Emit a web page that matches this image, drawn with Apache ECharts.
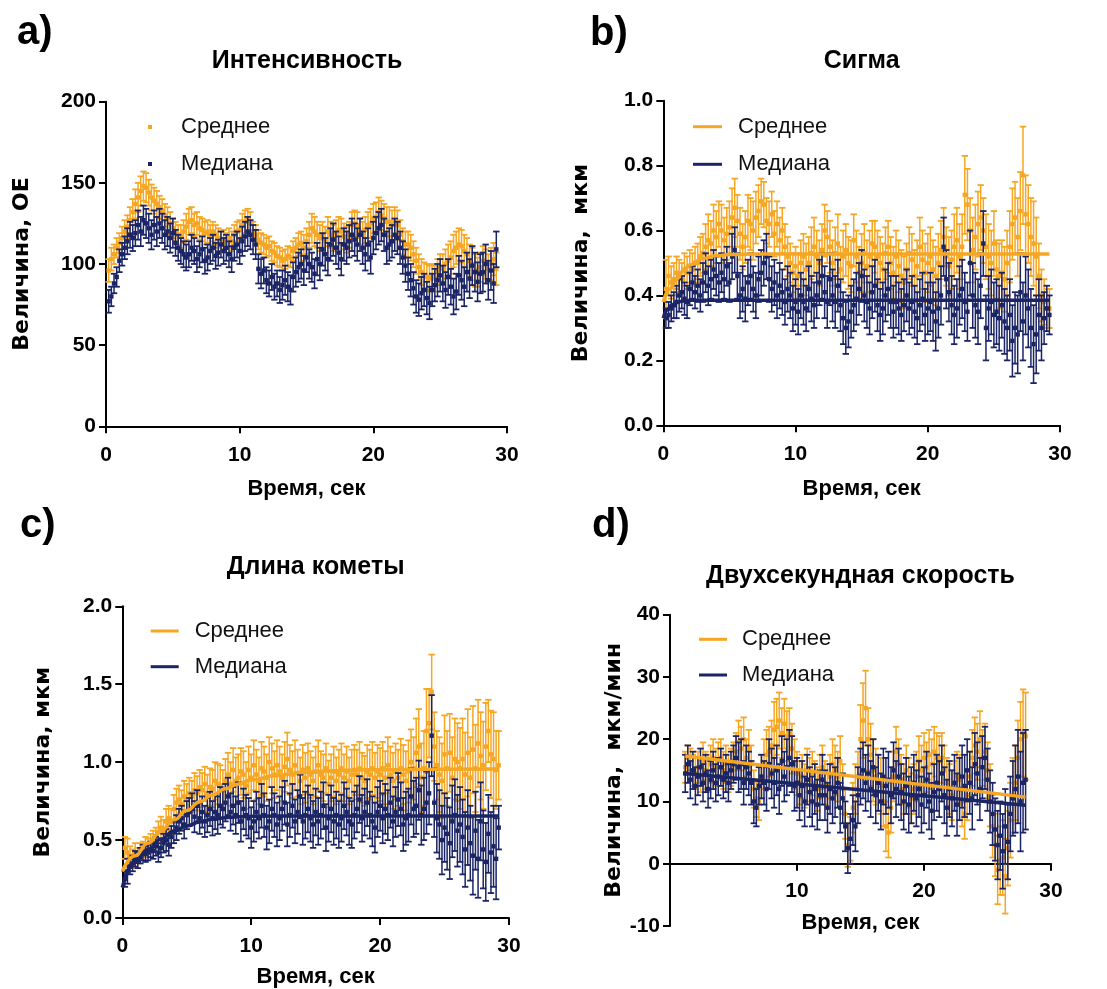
<!DOCTYPE html>
<html><head><meta charset="utf-8">
<script src="https://cdn.jsdelivr.net/npm/echarts@6/dist/echarts.min.js"></script>
<style>html,body{margin:0;padding:0;background:#fff}#c{width:1107px;height:989px}</style>
</head><body><div id="c"></div><script>
// ---------- DATA ----------
const seriesNames = ['Среднее', 'Медиана'];
const panelTitles = ['Интенсивность', 'Сигма', 'Длина кометы', 'Двухсекундная скорость'];
const panelLetters = ['a)', 'b)', 'c)', 'd)'];
const yTitles = ['Величина, ОЕ', 'Величина,  мкм', 'Величина, мкм', 'Величина,  мкм/мин'];
const xTitle = 'Время, сек';

// sampling: frames every 0.2 s
const abcStart = 0.2, dStart = 1.2, frameStep = 0.2;

// a) Интенсивность
const aMean = [96,103,106,110,113,116,120,123,127,132,
137,141,145,148,147,144,141,139,137,135,
133,130,128,125,122,120,118,117,120,123,
126,127,124,125,122,121,119,120,118,120,
118,116,114,115,113,116,114,118,120,121,
124,126,127,125,120,118,115,113,112,110,
111,108,107,105,104,102,103,105,104,108,
110,112,113,110,114,118,122,120,118,116,
118,115,120,118,116,119,121,120,117,115,
118,124,125,124,120,118,121,124,125,128,
129,132,130,128,126,126,124,126,124,118,
114,112,112,110,106,102,98,95,93,92,
91,92,91,95,98,97,100,102,104,108,
110,112,111,108,106,102,100,96,95,98,
102,100,97,100,103,97];
const aMeanErr = [7,7,6,6,6,7,7,7,8,8,
9,9,9,9,9,8,8,8,8,7,
7,7,7,7,6,6,6,7,7,8,
8,8,7,7,7,7,7,7,6,6,
6,6,6,6,6,6,6,6,6,6,
7,7,7,7,6,6,6,6,6,6,
6,6,6,6,6,6,6,6,6,6,
6,7,7,8,8,8,9,9,8,8,
8,8,9,8,8,8,8,8,8,8,
8,8,8,8,8,8,8,8,9,9,
9,9,9,9,9,9,9,9,9,9,
8,8,8,8,8,8,8,8,8,8,
8,8,8,8,8,9,9,10,10,10,
10,10,10,10,10,10,10,10,9,9,
9,9,9,10,10,10];
const aMed = [77,80,88,92,102,106,110,114,118,116,
119,124,120,127,125,122,118,124,120,125,
122,118,120,116,119,113,110,108,106,104,
106,110,108,103,106,109,102,104,108,110,
105,107,112,108,110,106,103,110,112,108,
114,117,120,118,115,112,97,94,96,90,
88,92,86,88,84,87,90,86,84,92,
95,98,100,96,104,100,98,94,103,100,
109,106,103,112,115,110,107,103,112,110,
114,118,115,112,118,110,106,112,104,116,
119,122,124,118,110,112,114,118,116,110,
104,99,94,90,85,80,78,82,84,79,
76,84,87,90,93,88,84,92,86,80,
83,93,90,86,95,91,99,95,89,94,
95,100,90,96,88,109];
const aMedErr = [7,6,6,6,7,7,7,8,8,8,
8,9,9,9,9,9,9,9,9,9,
9,9,9,9,9,8,8,8,8,8,
8,8,8,8,8,8,8,8,8,8,
8,8,8,8,8,8,8,8,8,8,
9,9,9,9,9,9,9,9,8,8,
8,8,8,8,8,9,9,9,9,9,
9,9,9,9,9,9,9,9,10,10,
10,10,10,10,10,10,10,10,10,10,
10,10,10,10,10,10,10,10,10,10,
10,10,10,10,10,10,10,10,10,10,
10,10,10,10,10,10,10,10,10,10,
10,10,10,10,10,11,11,11,11,11,
11,12,12,12,12,12,12,12,12,12,
12,12,12,12,12,11];

// b) Сигма
const bMean = [.42,.46,.44,.45,.47,.46,.45,.48,.47,.49,
.48,.50,.50,.52,.53,.55,.57,.56,.60,.58,
.62,.60,.57,.59,.61,.64,.67,.63,.59,.55,
.58,.63,.62,.60,.64,.66,.69,.68,.63,.62,
.65,.59,.62,.57,.60,.55,.52,.50,.47,.49,
.46,.50,.52,.48,.50,.53,.55,.52,.50,.54,
.60,.58,.55,.50,.53,.56,.48,.52,.54,.50,
.49,.57,.52,.47,.50,.53,.49,.52,.56,.55,
.52,.50,.48,.53,.55,.50,.47,.52,.49,.46,
.44,.48,.53,.51,.46,.49,.55,.51,.47,.50,
.52,.48,.46,.50,.54,.58,.52,.49,.51,.55,
.57,.52,.55,.71,.68,.60,.54,.58,.62,.64,
.60,.55,.52,.50,.56,.48,.46,.47,.45,.50,
.55,.62,.64,.58,.66,.77,.65,.62,.58,.56,
.52,.46,.40,.38,.36,.36];
const bMeanErr = [.09,.06,.05,.05,.05,.05,.05,.05,.05,.05,
.05,.05,.06,.06,.06,.07,.08,.07,.08,.08,
.07,.08,.07,.08,.08,.09,.09,.08,.08,.07,
.08,.08,.08,.09,.08,.08,.07,.07,.07,.07,
.07,.07,.07,.07,.07,.07,.06,.06,.06,.06,
.07,.07,.07,.08,.08,.08,.09,.08,.07,.08,
.08,.08,.08,.07,.08,.09,.07,.08,.08,.08,
.08,.08,.08,.08,.09,.09,.08,.08,.07,.08,
.08,.08,.08,.08,.08,.08,.08,.08,.08,.08,
.08,.08,.08,.08,.08,.08,.09,.09,.09,.09,
.09,.09,.09,.09,.09,.09,.09,.09,.09,.10,
.10,.10,.10,.12,.11,.10,.10,.10,.10,.10,
.10,.10,.10,.10,.10,.09,.10,.10,.10,.10,
.11,.11,.11,.12,.12,.15,.12,.12,.12,.13,
.12,.10,.08,.07,.06,.06];
const bMed = [.33,.34,.36,.37,.38,.40,.41,.39,.38,.42,
.44,.41,.43,.40,.44,.47,.43,.45,.48,.46,
.44,.47,.45,.49,.44,.52,.54,.46,.40,.42,
.39,.44,.46,.42,.40,.45,.47,.50,.52,.45,
.42,.44,.40,.43,.41,.38,.42,.40,.36,.38,
.35,.40,.38,.36,.42,.39,.37,.40,.44,.46,
.41,.38,.45,.40,.38,.43,.37,.33,.30,.32,
.35,.37,.39,.42,.46,.40,.38,.36,.41,.43,
.37,.34,.36,.40,.42,.38,.35,.38,.36,.34,
.37,.40,.36,.38,.35,.33,.37,.39,.34,.36,
.38,.35,.32,.36,.40,.55,.45,.41,.37,.34,
.36,.40,.42,.38,.35,.50,.40,.37,.35,.43,
.56,.30,.36,.38,.34,.35,.33,.37,.32,.30,
.34,.26,.30,.28,.41,.32,.40,.36,.30,.25,
.28,.34,.30,.33,.36,.34];
const bMedErr = [.03,.04,.04,.04,.05,.05,.05,.05,.05,.05,
.05,.05,.05,.05,.06,.06,.06,.06,.06,.06,
.06,.06,.06,.06,.06,.07,.07,.07,.07,.07,
.07,.07,.07,.07,.07,.07,.07,.07,.07,.07,
.07,.07,.07,.07,.07,.07,.07,.07,.07,.07,
.07,.07,.07,.07,.07,.07,.07,.07,.07,.07,
.08,.08,.08,.08,.08,.08,.08,.08,.08,.08,
.08,.08,.08,.08,.08,.08,.08,.08,.08,.08,
.08,.08,.08,.08,.08,.08,.08,.08,.08,.08,
.08,.08,.08,.08,.08,.08,.08,.08,.08,.08,
.09,.09,.09,.09,.09,.09,.09,.09,.09,.09,
.09,.09,.09,.09,.09,.10,.10,.10,.10,.10,
.10,.10,.10,.10,.10,.10,.10,.10,.10,.10,
.11,.11,.11,.12,.12,.12,.12,.12,.12,.12,
.12,.11,.10,.08,.07,.06];
const bFitT = [0, 0.5, 1, 1.5, 2, 3, 4, 5, 7, 29.2];
const bFitMean = [0.38, 0.42, 0.45, 0.475, 0.494, 0.514, 0.522, 0.526, 0.528, 0.528];
const bFitMedT = [0, 0.3, 0.6, 1, 1.5, 2, 29.2];
const bFitMed = [0.33, 0.355, 0.37, 0.378, 0.383, 0.385, 0.385];

// c) Длина кометы
const cMean = [.45,.42,.40,.38,.42,.40,.43,.44,.46,.45,
.48,.50,.52,.55,.58,.56,.62,.64,.62,.70,
.74,.76,.73,.78,.76,.80,.78,.82,.80,.84,
.82,.86,.80,.84,.83,.88,.86,.85,.82,.88,
.92,.86,.95,.88,.90,.94,.92,.85,.95,.90,
.98,.92,.88,.96,.94,.90,1.00,.96,.92,.98,
.94,.90,.97,1.02,.95,.92,.98,.93,.88,.95,
.90,.96,.92,.88,.94,.98,.92,.90,.96,.86,
.90,.94,.88,.92,.96,.90,.94,.88,.92,.95,
.92,.96,.90,.88,.94,.92,.96,.90,.94,.92,
.96,.90,.98,.92,.88,.94,.90,.96,.92,.88,
.94,1.00,.96,1.06,1.10,.90,.96,1.20,1.25,1.45,
1.10,.98,.92,.88,1.05,.96,1.06,.90,1.02,1.00,
.96,1.02,.92,1.06,.90,1.08,.96,1.12,1.04,.98,
1.10,1.20,1.05,1.02,.95,.98];
const cMeanErr = [.07,.09,.06,.06,.06,.05,.05,.05,.06,.06,
.06,.06,.06,.07,.07,.07,.08,.08,.08,.09,
.09,.09,.09,.10,.10,.10,.10,.11,.11,.11,
.11,.11,.12,.12,.12,.12,.13,.13,.13,.14,
.14,.14,.14,.15,.15,.15,.15,.15,.15,.15,
.16,.16,.15,.17,.16,.15,.16,.16,.15,.16,
.16,.15,.16,.17,.16,.15,.16,.15,.15,.16,
.16,.16,.15,.15,.16,.16,.15,.15,.16,.15,
.15,.16,.15,.16,.16,.15,.16,.15,.16,.16,
.16,.17,.16,.16,.17,.16,.17,.16,.17,.17,
.17,.17,.18,.18,.18,.18,.18,.19,.19,.19,
.20,.21,.20,.22,.24,.22,.24,.27,.22,.24,
.22,.22,.24,.24,.25,.24,.25,.26,.26,.25,
.26,.26,.27,.28,.26,.28,.28,.28,.28,.28,
.28,.20,.28,.30,.25,.22];
const cMed = [.25,.30,.33,.35,.38,.37,.40,.42,.41,.42,
.44,.43,.46,.42,.45,.48,.50,.47,.52,.55,
.58,.62,.64,.60,.66,.68,.70,.65,.72,.64,
.68,.62,.66,.70,.64,.68,.66,.72,.70,.74,
.78,.68,.72,.66,.74,.62,.70,.66,.64,.58,
.62,.68,.64,.72,.66,.58,.62,.70,.66,.60,
.64,.70,.74,.60,.66,.72,.62,.68,.78,.62,
.66,.70,.64,.60,.68,.62,.66,.72,.58,.64,
.70,.62,.66,.60,.64,.72,.68,.62,.60,.66,
.70,.76,.64,.68,.74,.66,.62,.58,.68,.72,
.64,.70,.66,.74,.62,.68,.76,.70,.60,.64,
.66,.78,.70,.72,.82,.66,.70,.74,.80,1.17,
.74,.64,.60,.50,.58,.54,.48,.62,.66,.56,
.60,.52,.44,.58,.48,.40,.56,.38,.62,.44,
.36,.54,.42,.46,.38,.58];
const cMedErr = [.05,.08,.05,.05,.05,.05,.05,.05,.05,.05,
.05,.05,.06,.06,.06,.06,.07,.07,.07,.07,
.08,.08,.08,.09,.09,.09,.10,.10,.10,.10,
.10,.10,.11,.11,.11,.11,.12,.12,.12,.12,
.12,.12,.12,.12,.13,.13,.13,.13,.13,.13,
.13,.13,.13,.14,.14,.14,.14,.14,.14,.14,
.14,.14,.14,.14,.14,.14,.14,.14,.14,.15,
.15,.15,.15,.15,.15,.15,.15,.15,.15,.15,
.15,.15,.15,.15,.15,.15,.15,.15,.15,.15,
.15,.15,.15,.15,.15,.15,.16,.16,.16,.16,
.16,.16,.16,.16,.16,.16,.17,.17,.17,.17,
.17,.18,.18,.18,.19,.19,.20,.20,.20,.26,
.22,.22,.22,.22,.22,.23,.23,.23,.23,.23,
.24,.24,.24,.24,.24,.25,.25,.25,.25,.25,
.25,.25,.26,.26,.26,.14];
const cFitT = [0, 1, 2, 3, 4, 5, 6, 7, 8, 9, 10, 12, 14, 16, 18, 20, 24, 29.2];
const cFitMean = [0.30, 0.40, 0.48, 0.56, 0.63, 0.69, 0.745, 0.79, 0.83, 0.86, 0.885, 0.915, 0.933, 0.943, 0.949, 0.952, 0.955, 0.956];
const cFitMedT = [0, 1, 2, 3, 4, 5, 6, 7, 8, 9, 10, 14, 29.2];
const cFitMed = [0.196, 0.356, 0.44, 0.505, 0.558, 0.59, 0.616, 0.633, 0.644, 0.65, 0.653, 0.655, 0.655];

// d) Двухсекундная скорость (1.2 … 28.0 s)
const dMean = [15.5,17.0,16.0,15.0,14.5,15.5,14.0,16.5,15.0,14.5,
16.0,17.0,15.5,16.5,17.0,15.0,16.0,14.5,15.5,16.5,
18.0,19.5,18.5,20.0,17.0,18.5,16.0,12.0,10.5,10.0,
14.0,16.0,17.5,18.0,19.0,21.5,22.0,23.0,21.0,22.5,
20.5,21.0,18.5,16.0,14.5,13.0,14.0,12.5,15.0,13.5,
14.5,13.0,12.0,14.0,15.5,13.0,12.5,14.0,16.0,15.0,
14.0,16.5,12.0,8.0,3.0,4.0,9.0,12.0,14.0,20.0,
23.0,25.0,20.0,17.5,15.0,14.0,13.0,12.5,10.0,6.0,
5.0,9.0,14.0,18.0,16.0,13.5,12.0,15.0,13.0,10.5,
12.0,14.0,16.5,15.0,17.0,15.5,17.5,16.0,18.0,17.0,
16.5,17.0,15.0,13.0,12.0,11.0,12.5,14.0,13.5,10.0,
8.0,11.0,14.0,17.0,19.0,18.0,20.0,17.0,18.0,15.0,
11.0,6.0,3.0,-1.0,0.5,1.0,-2.0,2.5,7.0,11.0,
13.0,17.0,20.0,21.0,20.5];
const dMeanErr = [2.5,2,2.5,2.5,2.5,2.5,2.5,3,3,3,
3,3,3,3,3,3,3,3,3,3,
3,3.5,3.5,3.5,3,3,3,3,3,3,
3.5,4,4,4,4,4.5,4.5,4.5,4,4,
4,4,4,4,3.5,3.5,3.5,3.5,3.5,3.5,
3.5,3.5,3.5,3.5,3.5,3.5,3.5,3.5,4,4,
4,4,4,4,3.5,3.5,4,4,4,5.5,
6,6,5,5,5,4.5,4.5,4.5,4,4,
4,4,4,4,4,4,4,4,4,4,
4,4,4,4,4,4,4,4,4,4,
4,4,4,4,4,4,4,4,4,4,
4,4,4,4.5,4.5,4.5,4.5,4.5,4.5,4.5,
5,5,5,5.5,5.5,6,6,6,6,6,
6,6,6,7,7];
const dMed = [14.5,16.0,13.5,15.0,12.5,14.0,15.5,13.0,14.5,12.0,
13.5,15.0,13.0,14.0,15.5,13.5,14.5,13.0,15.0,16.0,
17.0,15.5,16.0,13.0,15.5,14.5,13.0,10.0,9.0,12.5,
14.0,13.0,12.0,16.0,14.5,13.0,15.0,12.0,16.5,14.0,
15.5,17.0,16.0,12.5,13.0,11.0,12.5,10.0,13.5,11.5,
10.0,12.0,9.5,11.0,13.5,11.0,9.0,12.0,10.5,11.5,
13.0,9.0,10.5,6.0,2.5,4.0,7.0,6.0,11.0,14.0,
15.0,13.0,14.5,12.0,15.5,11.0,13.0,10.0,14.0,12.5,
13.5,11.0,15.0,12.0,14.0,11.5,10.0,12.5,9.5,11.0,
13.0,10.5,12.0,9.5,11.0,13.5,10.0,8.5,11.5,13.0,
12.0,14.5,11.0,9.0,12.0,10.5,13.0,9.5,12.0,14.0,
12.5,15.0,13.0,10.5,16.0,14.5,12.0,15.5,17.0,13.5,
10.0,8.0,5.5,3.0,4.5,2.0,6.0,3.5,8.0,10.5,
12.0,14.0,10.0,13.0,13.5];
const dMedErr = [3,3,3,3,3,3,3,3,3,3,
3,3,3,3,3,3,3,3,3,3,
3.5,4,4,3.5,3.5,3.5,3.5,3.5,3,3,
3.5,3.5,3.5,4,4,4,4,4,4,4,
4.5,4.5,4.5,4,4,4,4,4,4,4,
4,4,4,4,4,4,4,4,4,4,
4,4,4,4,4,4,4,4,4.5,4.5,
4.5,4.5,4.5,4.5,4.5,4.5,4.5,4.5,4.5,4.5,
4.5,4.5,4.5,4.5,4.5,4.5,4.5,4.5,4.5,4.5,
4.5,4.5,4.5,4.5,4.5,4.5,4.5,4.5,4.5,4.5,
4.5,4.5,4.5,4.5,4.5,4.5,4.5,5,5,5,
5,5,5,5,5,5,5,5,5,5,
5,5,5,5.5,5.5,6,6,6,6,6,
7,7.5,8,8,8];
const dFitT = [1.2, 28.0];
const dFitMean = [17.3, 10.7];
const dFitMed = [14.5, 9.4];

// ---------- STYLE ----------
const OR = '#F5A623', NV = '#1B2566';
const SANS = "'Liberation Sans',Arial,sans-serif";
const WIDE = "'DejaVu Sans',sans-serif";

function frameTimes(start, n) { const t = []; for (let i = 0; i < n; i++) t.push(Math.round((start + frameStep * i) * 100) / 100); return t; }

function errSeries(name, k, vals, errs, start, color) {
  const ts = frameTimes(start, vals.length);
  return {
    type: 'custom', name, xAxisIndex: k, yAxisIndex: k,
    itemStyle: { color },
    encode: { x: 0, y: 1 },
    data: vals.map((v, i) => [ts[i], v, errs[i]]),
    renderItem: (p, api) => {
      const x = api.value(0), y = api.value(1), e = api.value(2);
      const t = api.coord([x, y + e]), b = api.coord([x, y - e]), c = api.coord([x, y]);
      const w = 3.2;
      return { type: 'group', children: [
        { type: 'line', shape: { x1: t[0], y1: t[1], x2: b[0], y2: b[1] }, style: { stroke: color, lineWidth: 1.5 } },
        { type: 'line', shape: { x1: t[0] - w, y1: t[1], x2: t[0] + w, y2: t[1] }, style: { stroke: color, lineWidth: 1.8 } },
        { type: 'line', shape: { x1: b[0] - w, y1: b[1], x2: b[0] + w, y2: b[1] }, style: { stroke: color, lineWidth: 1.8 } },
        { type: 'rect', shape: { x: c[0] - 2.2, y: c[1] - 2.2, width: 4.4, height: 4.4 }, style: { fill: color } }
      ] };
    }
  };
}
function fitSeries(name, k, ts, vals, color) {
  return { type: 'line', name, xAxisIndex: k, yAxisIndex: k, data: ts.map((t, i) => [t, vals[i]]),
    showSymbol: false, smooth: true, smoothMonotone: 'x', silent: true,
    lineStyle: { width: 3.5, color }, itemStyle: { color } };
}

const grids = [
  { left: 106, top: 101.7, width: 401, height: 324.6 },
  { left: 663.3, top: 100.7, width: 396.7, height: 324.6 },
  { left: 122.3, top: 606.3, width: 386.7, height: 312.7 },
  { left: 670, top: 614.7, width: 381, height: 311.3 },
  // helper grid for panel d: upper part (0…40), so its bottom edge sits on the zero line
  { left: 670, top: 614.7, width: 381, height: 249 }
];
const yCfg = [
  { min: 0, max: 200, interval: 50, dec: 0, gap: 73 },
  { min: 0, max: 1, interval: 0.2, dec: 1, gap: 71 },
  { min: 0, max: 2, interval: 0.5, dec: 1, gap: 68 },
  { min: -10, max: 40, interval: 10, dec: 0, gap: 38 }
];
const xNameGap = [52, 53, 48, 48];

const axisLine = { show: true, lineStyle: { color: '#000', width: 2 } };
const axisTick = { show: true, length: 7, lineStyle: { color: '#000', width: 2 } };
const labelStyle = { fontFamily: SANS, fontWeight: 'bold', fontSize: 21, color: '#000' };
const xNameStyle = { fontFamily: SANS, fontWeight: 'bold', fontSize: 22, color: '#000' };

const xAxis = grids.slice(0, 4).map((g, k) => ({
  gridIndex: k, type: 'value', min: 0, max: 30, interval: 10,
  axisLine: { ...axisLine, onZero: true }, axisTick, splitLine: { show: false },
  axisLabel: { ...labelStyle, margin: 18, show: k !== 3 },
  name: k !== 3 ? xTitle : '', nameLocation: 'middle', nameGap: xNameGap[k],
  nameTextStyle: xNameStyle
}));
xAxis.push({
  gridIndex: 4, type: 'value', min: 0, max: 30, interval: 10,
  axisLine: { show: false }, axisTick: { show: false }, splitLine: { show: false },
  axisLabel: { ...labelStyle, margin: 17, showMinLabel: false },
  name: xTitle, nameLocation: 'middle', nameGap: xNameGap[3], nameTextStyle: xNameStyle
});
const yAxis = yCfg.map((c, k) => ({
  gridIndex: k, type: 'value', min: c.min, max: c.max, interval: c.interval,
  axisLine, axisTick, splitLine: { show: false },
  axisLabel: { ...labelStyle, margin: 10, formatter: v => v.toFixed(c.dec) },
  name: yTitles[k], nameLocation: 'middle', nameRotate: 90, nameGap: c.gap,
  nameTextStyle: { fontFamily: WIDE, fontWeight: 'bold', fontSize: 22, color: '#000' }
}));
yAxis.push({ gridIndex: 4, type: 'value', min: 0, max: 40, show: false });

const legendText = (pad) => ({ fontFamily: SANS, fontSize: 22, lineHeight: 26, color: '#111', padding: [0, 0, 0, pad] });
const legendData = [{ name: seriesNames[0], itemStyle: { color: OR } }, { name: seriesNames[1], itemStyle: { color: NV } }];
const legend = [
  { orient: 'vertical', left: 143, top: 109, itemWidth: 4, itemHeight: 4, itemGap: 11, icon: 'rect', selectedMode: false, data: legendData, textStyle: legendText(24) },
  { orient: 'vertical', left: 688, top: 108.7, itemWidth: 29, itemHeight: 3, itemGap: 11.6, icon: 'rect', selectedMode: false, data: legendData, textStyle: legendText(11) },
  { orient: 'vertical', left: 145.7, top: 613, itemWidth: 28, itemHeight: 3, itemGap: 9.7, icon: 'rect', selectedMode: false, data: legendData, textStyle: legendText(11) },
  { orient: 'vertical', left: 694, top: 621.3, itemWidth: 28, itemHeight: 3, itemGap: 9.7, icon: 'rect', selectedMode: false, data: legendData, textStyle: legendText(10) }
];

const series = [
  errSeries(seriesNames[0], 0, aMean, aMeanErr, abcStart, OR),
  errSeries(seriesNames[1], 0, aMed, aMedErr, abcStart, NV),
  errSeries(seriesNames[0], 1, bMean, bMeanErr, abcStart, OR),
  errSeries(seriesNames[1], 1, bMed, bMedErr, abcStart, NV),
  fitSeries(seriesNames[0], 1, bFitT, bFitMean, OR),
  fitSeries(seriesNames[1], 1, bFitMedT, bFitMed, NV),
  errSeries(seriesNames[0], 2, cMean, cMeanErr, abcStart, OR),
  errSeries(seriesNames[1], 2, cMed, cMedErr, abcStart, NV),
  fitSeries(seriesNames[0], 2, cFitT, cFitMean, OR),
  fitSeries(seriesNames[1], 2, cFitMedT, cFitMed, NV),
  errSeries(seriesNames[0], 3, dMean, dMeanErr, dStart, OR),
  errSeries(seriesNames[1], 3, dMed, dMedErr, dStart, NV),
  fitSeries(seriesNames[0], 3, dFitT, dFitMean, OR),
  fitSeries(seriesNames[1], 3, dFitT, dFitMed, NV)
];

const letterPos = [[17, 33], [590, 34], [20, 526], [592, 526]];
const titlePos = [[307, 61], [861.7, 61], [315.6, 567], [860.5, 576]];
const graphic = [];
panelLetters.forEach((s, i) => graphic.push({ type: 'text', x: letterPos[i][0], y: letterPos[i][1],
  style: { text: s, fill: '#000', font: "bold 40px " + SANS, align: 'left', verticalAlign: 'middle' } }));
panelTitles.forEach((s, i) => graphic.push({ type: 'text', x: titlePos[i][0], y: titlePos[i][1],
  style: { text: s, fill: '#000', font: "bold 25px " + SANS, align: 'center', verticalAlign: 'middle' } }));

const chart = echarts.init(document.getElementById('c'), null, { renderer: 'canvas' });
chart.setOption({ animation: false, backgroundColor: '#fff', grid: grids, xAxis, yAxis, legend, series, graphic });
</script></body></html>
